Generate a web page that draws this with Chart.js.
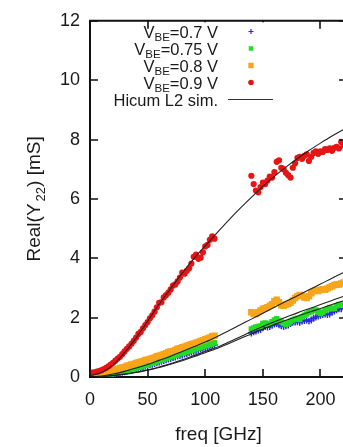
<!DOCTYPE html>
<html>
<head>
<meta charset="utf-8">
<script src="https://cdn.jsdelivr.net/npm/chart.js@4/dist/chart.umd.min.js"></script>
<style>
html, body { margin: 0; padding: 0; background: #fff; overflow: hidden; }
#wrap { width: 360px; height: 447px; }
</style>
</head>
<body>
<div id="wrap"><canvas id="myChart" width="360" height="447"></canvas></div>
<script>
// measured frequencies (GHz), two measurement bands
const fLow = [0,2,4,6,8,10,12,14,16,18,20,22,24,26,28,30,32,34,36,38,40,42,44,46,48,50,52,54,56,58,60,62,64,66,68,70,72,74,76,78,80,82,84,86,88,90,92,94,96,98,100,102,104,106,108]
const fHigh = [140,142,144,146,148,150,152,154,156,158,160,162,164,166,168,170,172,174,176,178,180,182,184,186,188,190,192,194,196,198,200,202,204,206,208,210,212,214,216,218,220,222]

// Real(Y22) [mS], measured
const vbe07Low = [0.00,0.01,0.01,0.02,0.03,0.04,0.05,0.06,0.07,0.08,0.10,0.11,0.12,0.14,0.16,0.17,0.19,0.21,0.23,0.25,0.27,0.29,0.31,0.34,0.36,0.38,0.41,0.43,0.45,0.48,0.50,0.53,0.55,0.58,0.60,0.62,0.65,0.67,0.70,0.72,0.74,0.77,0.79,0.82,0.84,0.86,0.89,0.91,0.94,0.96,0.98,1.01,1.03,1.06,1.08]
const vbe07High = [1.48,1.52,1.55,1.58,1.60,1.66,1.70,1.68,1.70,1.74,1.78,1.80,1.76,1.72,1.70,1.72,1.75,1.80,1.84,1.85,1.86,1.84,1.88,1.90,1.92,1.88,1.92,1.98,2.02,2.05,2.08,2.10,2.12,2.10,2.12,2.18,2.22,2.26,2.30,2.30,2.32,2.35]

const vbe075Low = [0.00,0.01,0.02,0.03,0.04,0.05,0.07,0.08,0.09,0.10,0.12,0.14,0.15,0.16,0.18,0.20,0.22,0.24,0.26,0.28,0.31,0.32,0.35,0.37,0.40,0.42,0.45,0.47,0.50,0.53,0.55,0.58,0.60,0.63,0.66,0.68,0.70,0.73,0.76,0.78,0.80,0.83,0.85,0.88,0.90,0.92,0.95,0.98,1.00,1.03,1.05,1.07,1.10,1.13,1.15]
const vbe075High = [1.62,1.65,1.68,1.70,1.72,1.80,1.82,1.78,1.80,1.86,1.92,1.96,1.90,1.85,1.80,1.78,1.82,1.88,1.92,1.95,1.98,1.94,2.02,2.08,2.12,2.18,2.20,2.24,2.26,2.20,2.14,2.18,2.24,2.30,2.34,2.30,2.32,2.40,2.44,2.42,2.45,2.50]

const vbe08Low = [0.02,0.04,0.05,0.07,0.10,0.11,0.13,0.16,0.17,0.20,0.23,0.25,0.27,0.30,0.32,0.34,0.38,0.39,0.42,0.44,0.47,0.49,0.51,0.53,0.57,0.58,0.61,0.63,0.66,0.70,0.72,0.74,0.77,0.80,0.84,0.86,0.88,0.91,0.95,0.97,1.00,1.02,1.05,1.08,1.10,1.13,1.15,1.18,1.21,1.24,1.27,1.30,1.33,1.37,1.39]
const vbe08High = [2.18,2.12,2.12,2.18,2.24,2.30,2.32,2.35,2.40,2.45,2.55,2.60,2.52,2.42,2.40,2.44,2.46,2.50,2.58,2.66,2.72,2.76,2.74,2.68,2.66,2.72,2.82,2.90,2.92,2.90,2.94,2.96,2.94,2.98,3.02,3.06,3.10,3.12,3.12,3.15,3.18,3.20]

const vbe09Low = [0.14,0.15,0.16,0.18,0.20,0.23,0.27,0.31,0.36,0.42,0.48,0.55,0.62,0.68,0.77,0.86,0.95,1.03,1.12,1.22,1.33,1.45,1.52,1.64,1.75,1.85,1.98,2.08,2.20,2.35,2.50,2.52,2.68,2.76,2.84,2.95,3.08,3.12,3.22,3.35,3.52,3.48,3.58,3.66,3.82,4.05,4.12,3.98,4.02,4.20,4.40,4.45,4.62,4.74,4.66]
const vbe09High = [6.78,6.50,6.28,6.22,6.40,6.55,6.50,6.62,6.75,6.72,6.90,7.25,7.30,7.05,7.00,6.88,6.80,6.72,7.05,7.20,7.38,7.42,7.35,7.45,7.50,7.28,7.42,7.55,7.60,7.52,7.60,7.58,7.68,7.65,7.70,7.62,7.72,7.75,7.70,7.92,7.80,7.85]

// Hicum L2 simulation
const fSim = [0,10,20,30,40,50,60,70,80,90,100,110,120,130,140,150,160,170,180,190,200,210,220,230]
const sim07 = [0,0.01,0.05,0.09,0.15,0.23,0.32,0.43,0.55,0.68,0.82,0.96,1.12,1.29,1.45,1.61,1.77,1.91,2.05,2.18,2.31,2.44,2.57,2.69]
const sim075 = [0,0.01,0.05,0.10,0.16,0.24,0.34,0.45,0.58,0.72,0.86,1.00,1.17,1.35,1.53,1.70,1.86,2.01,2.16,2.30,2.44,2.58,2.72,2.85]
const sim08 = [0,0.03,0.10,0.19,0.30,0.42,0.56,0.70,0.86,1.02,1.18,1.36,1.55,1.75,1.95,2.15,2.35,2.55,2.74,2.94,3.13,3.33,3.52,3.70]
const sim09 = [0.05,0.15,0.40,0.82,1.32,1.88,2.45,2.98,3.50,3.98,4.42,4.85,5.27,5.67,6.05,6.42,6.76,7.07,7.36,7.63,7.88,8.12,8.34,8.55]

const xTicks = [0, 50, 100, 150, 200]
const yTicks = [0, 2, 4, 6, 8, 10, 12]
const legendLabels = ["0.7 V", "0.75 V", "0.8 V", "0.9 V"]

const FONT = '"Liberation Sans", Arial, Helvetica, sans-serif'
const BLUE = "#2a2ad8"
const GREEN = "#22dd22"
const ORANGE = "#f7a51a"
const RED = "#e81414"
const SIMC = "#222"

const pts = (fs, vs) => fs.map((f, i) => ({ x: f, y: vs[i] }))

function measured(lo, hi, color, style, r, order) {
  return {
    data: pts(fLow, lo).concat(pts(fHigh, hi)),
    showLine: false,
    pointStyle: style,
    pointRadius: r,
    pointBackgroundColor: color,
    pointBorderColor: color,
    pointBorderWidth: style === "cross" ? 1.5 : 0,
    order
  }
}

function simLine(vs) {
  return {
    data: pts(fSim, vs),
    showLine: true,
    pointRadius: 0,
    borderColor: SIMC,
    borderWidth: 1.1,
    cubicInterpolationMode: "monotone",
    order: 0
  }
}

// inward ticks, top border, legend and axis titles
const decor = {
  id: "decor",
  afterDraw(chart) {
    const ctx = chart.ctx
    const { left, right, top, bottom } = chart.chartArea
    const xs = chart.scales.x, ys = chart.scales.y
    ctx.save()
    ctx.strokeStyle = "#111"
    ctx.lineWidth = 2
    ctx.beginPath()
    ctx.moveTo(left - 1, top); ctx.lineTo(right, top)
    ctx.moveTo(right, top); ctx.lineTo(right, bottom)
    ctx.stroke()
    ctx.lineWidth = 1.6
    ctx.beginPath()
    yTicks.forEach(v => {
      const y = Math.round(ys.getPixelForValue(v))
      ctx.moveTo(left, y); ctx.lineTo(left + 8, y)
      ctx.moveTo(right, y); ctx.lineTo(right - 8, y)
    })
    xTicks.forEach(v => {
      const x = Math.round(xs.getPixelForValue(v))
      ctx.moveTo(x, bottom); ctx.lineTo(x, bottom - 8)
      ctx.moveTo(x, top); ctx.lineTo(x, top + 8)
    })
    ctx.stroke()

    // key (opaque on its right part)
    ctx.fillStyle = "#fff"
    ctx.fillRect(190, top + 1.5, 95, 93)
    const main = "16.5px " + FONT, sub = "11.5px " + FONT
    const rightX = 218
    ctx.fillStyle = "#1a1a1a"
    ctx.textBaseline = "alphabetic"
    const colors = [BLUE, GREEN, ORANGE, RED]
    legendLabels.forEach((lab, i) => {
      const base = 37.5 + 17 * i
      ctx.font = main; const wV = ctx.measureText("V").width
      ctx.font = sub; const wB = ctx.measureText("BE").width
      ctx.font = main; const wR = ctx.measureText("=" + lab).width
      let x = rightX - (wV + wB + wR)
      ctx.font = main; ctx.textAlign = "left"; ctx.fillText("V", x, base); x += wV
      ctx.font = sub; ctx.fillText("BE", x, base + 3); x += wB
      ctx.font = main; ctx.fillText("=" + lab, x, base)
      const cy = base - 6, cx = 251
      ctx.fillStyle = colors[i]; ctx.strokeStyle = colors[i]
      if (i === 0) {
        ctx.lineWidth = 1.2
        ctx.beginPath()
        ctx.moveTo(cx - 2.5, cy); ctx.lineTo(cx + 2.5, cy)
        ctx.moveTo(cx, cy - 2.5); ctx.lineTo(cx, cy + 2.5)
        ctx.stroke()
      } else if (i === 3) {
        ctx.beginPath(); ctx.arc(cx, cy, 2.8, 0, Math.PI * 2); ctx.fill()
      } else {
        const s = i === 1 ? 4.5 : 5.4
        ctx.fillRect(cx - s / 2, cy - s / 2, s, s)
      }
      ctx.fillStyle = "#1a1a1a"
    })
    const hb = 37.5 + 17 * 4
    ctx.font = main; ctx.textAlign = "right"
    ctx.fillText("Hicum L2 sim.", rightX, hb)
    ctx.strokeStyle = "#333"; ctx.lineWidth = 1.2
    ctx.beginPath(); ctx.moveTo(228, hb - 6); ctx.lineTo(273, hb - 6); ctx.stroke()

    // axis titles
    ctx.font = "19px " + FONT
    ctx.textAlign = "center"
    ctx.fillText("freq [GHz]", (left + right) / 2, 440)

    ctx.translate(33.5, (top + bottom) / 2)
    ctx.rotate(-Math.PI / 2)
    ctx.textAlign = "left"
    const t1 = "Real(Y", t2 = "22", t3 = ") [mS]"
    ctx.font = "19px " + FONT; const w1 = ctx.measureText(t1).width, w3 = ctx.measureText(t3).width
    ctx.font = "13px " + FONT; const w2 = ctx.measureText(t2).width + 2
    let x0 = -(w1 + w2 + w3) / 2
    ctx.font = "19px " + FONT; ctx.fillText(t1, x0, 6.8); x0 += w1
    ctx.font = "13px " + FONT; ctx.fillText(t2, x0 + 2, 11.5); x0 += w2
    ctx.font = "19px " + FONT; ctx.fillText(t3, x0, 6.8)
    ctx.restore()
  }
}

const ctx = document.getElementById("myChart").getContext("2d")

new Chart(ctx, {
  type: "scatter",
  data: {
    datasets: [
      simLine(sim07),
      simLine(sim075),
      simLine(sim08),
      simLine(sim09),
      measured(vbe09Low, vbe09High, RED, "circle", 3.1, 1),
      measured(vbe08Low, vbe08High, ORANGE, "rect", 4.6, 2),
      measured(vbe075Low, vbe075High, GREEN, "rect", 3.9, 3),
      measured(vbe07Low, vbe07High, BLUE, "cross", 3.4, 4)
    ]
  },
  options: {
    responsive: false,
    animation: false,
    devicePixelRatio: 1,
    layout: { padding: { top: 14, right: 13, left: 0, bottom: 0 } },
    plugins: {
      legend: { display: false },
      tooltip: { enabled: false }
    },
    scales: {
      x: {
        type: "linear",
        min: 0,
        max: 223,
        afterFit: scale => { scale.height = 70 },
        ticks: {
          stepSize: 50,
          includeBounds: false,
          maxRotation: 0,
          padding: 12,
          color: "#1a1a1a",
          font: { family: FONT, size: 18 }
        },
        grid: { drawOnChartArea: false, drawTicks: false },
        border: { display: true, color: "#111", width: 2 }
      },
      y: {
        min: 0,
        max: 12,
        afterFit: scale => { scale.width = 90 },
        ticks: {
          stepSize: 2,
          padding: 10,
          color: "#1a1a1a",
          font: { family: FONT, size: 18 }
        },
        grid: { drawOnChartArea: false, drawTicks: false },
        border: { display: true, color: "#111", width: 2 }
      }
    }
  },
  plugins: [decor]
})
</script>
</body>
</html>
